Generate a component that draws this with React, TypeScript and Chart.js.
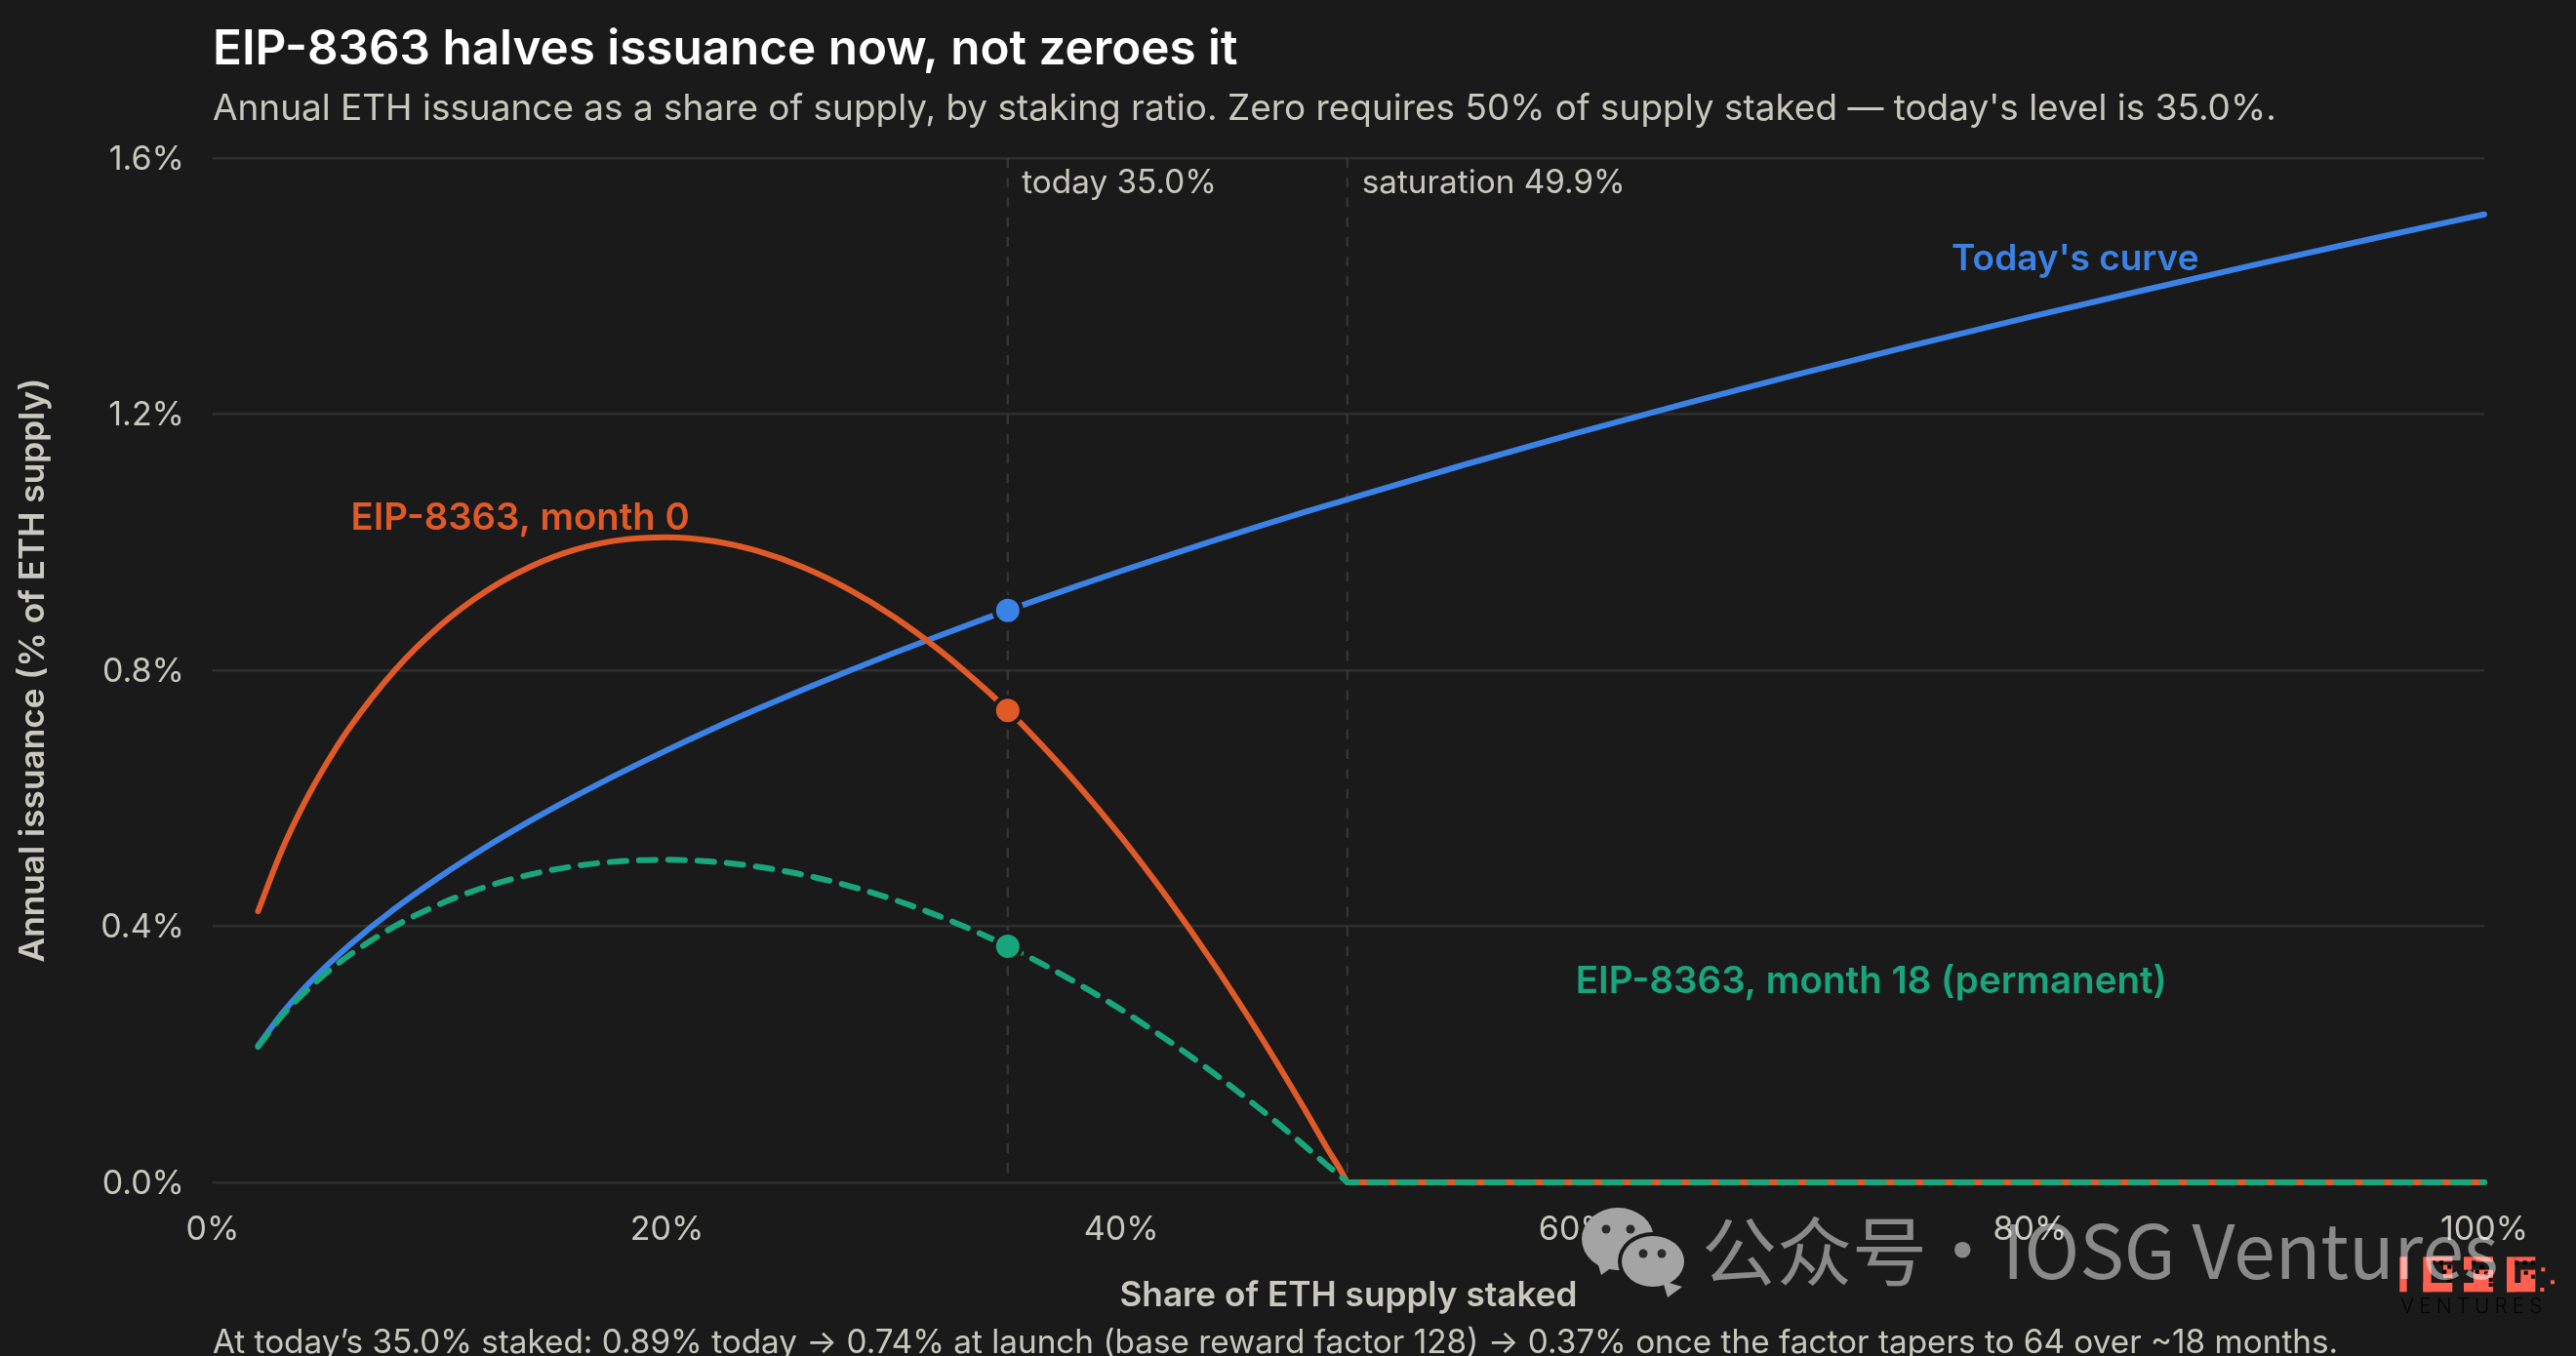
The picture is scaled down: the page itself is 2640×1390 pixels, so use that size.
import React, { useEffect, useRef } from "react";
import { Chart, registerables } from "chart.js";

Chart.register(...registerables);

const stakedLow = [2, 3, 4, 5, 6, 8, 10, 12, 14, 16, 18, 20, 22, 24, 26, 28, 30, 32, 34, 35, 36, 38, 40, 42, 44, 46, 47, 48, 49, 49.65, 49.85];
const todayLow = [0.2135, 0.2615, 0.302, 0.3376, 0.3699, 0.4271, 0.4775, 0.5231, 0.565, 0.604, 0.6406, 0.6753, 0.7083, 0.7397, 0.77, 0.799, 0.8271, 0.8542, 0.8805, 0.8933, 0.906, 0.9308, 0.955, 0.9786, 1.0016, 1.0241, 1.0352, 1.0462, 1.057, 1.0634, 1.0656];
const month0Low = [0.4236, 0.5153, 0.5903, 0.6538, 0.709, 0.7993, 0.8694, 0.9228, 0.962, 0.9887, 1.0036, 1.0078, 1.0019, 0.986, 0.9608, 0.9263, 0.8831, 0.831, 0.7705, 0.7372, 0.7016, 0.6245, 0.5392, 0.4458, 0.3446, 0.2354, 0.1778, 0.1184, 0.0569, 0.0192, 0.0064];
const month18Low = [0.2118, 0.2577, 0.2951, 0.3269, 0.3545, 0.3997, 0.4347, 0.4614, 0.481, 0.4943, 0.5018, 0.5039, 0.5009, 0.493, 0.4804, 0.4632, 0.4415, 0.4155, 0.3853, 0.3686, 0.3508, 0.3122, 0.2696, 0.2229, 0.1723, 0.1177, 0.0889, 0.0592, 0.0285, 0.0096, 0.0032];
const stakedHigh = [49.95, 55, 60, 65, 70, 75, 80, 85, 90, 95, 100];
const todayHigh = [1.0667, 1.12, 1.17, 1.218, 1.2642, 1.3087, 1.3518, 1.3935, 1.434, 1.4735, 1.512];
const zeroHigh = [0, 0, 0, 0, 0, 0, 0, 0, 0, 0, 0];

const markerX = [35];
const markerToday = [0.8933];
const markerMonth0 = [0.7372];
const markerMonth18 = [0.3686];
const refLines = [35, 49.95];

const TITLE = "EIP-8363 halves issuance now, not zeroes it";
const SUBTITLE = "Annual ETH issuance as a share of supply, by staking ratio. Zero requires 50% of supply staked — today's level is 35.0%.";
const FOOTER = "At today’s 35.0% staked: 0.89% today → 0.74% at launch (base reward factor 128) → 0.37% once the factor tapers to 64 over ~18 months.";
const X_TITLE = "Share of ETH supply staked";
const Y_TITLE = "Annual issuance (% of ETH supply)";

const BG = "#1a1a1a";
const TEXT = "#c8c8be";
const BLUE = "#3b82e6";
const ORANGE = "#e05a28";
const GREEN = "#18a67a";
const FONT = "Inter, sans-serif";
const WM_FONT = `"Noto Sans CJK SC", "Noto Sans", sans-serif`;

const zip = (xs: number[], ys: number[]) => xs.map((x, i) => ({ x, y: ys[i] }));

const overlay = {
  id: "overlay",
  beforeDraw(chart: any) {
    const c = chart.ctx;
    c.save();
    c.fillStyle = BG;
    c.fillRect(0, 0, chart.width, chart.height);
    c.restore();
  },
  afterDatasetsDraw(chart: any) {
    const c = chart.ctx;
    const sx = chart.scales.x;
    const sy = chart.scales.y;
    const left = chart.chartArea.left;
    c.save();
    c.textBaseline = "alphabetic";
    c.textAlign = "left";

    c.fillStyle = "#ffffff";
    c.font = `600 49.4px ${FONT}`;
    c.fillText(TITLE, left, 66);
    c.fillStyle = TEXT;
    c.font = `400 36.95px ${FONT}`;
    c.fillText(SUBTITLE, left, 123);
    c.font = `400 33.3px ${FONT}`;
    c.fillText(FOOTER, left, 1387);

    c.fillText("today 35.0%", sx.getPixelForValue(35) + 14.5, 198);
    c.fillText("saturation 49.9%", sx.getPixelForValue(49.9) + 16, 198);

    c.font = `600 38.3px ${FONT}`;
    c.fillStyle = ORANGE;
    c.fillText("EIP-8363, month 0", sx.getPixelForValue(6.08), sy.getPixelForValue(1.0195));
    c.font = `600 38.5px ${FONT}`;
    c.fillStyle = GREEN;
    c.fillText("EIP-8363, month 18 (permanent)", sx.getPixelForValue(60.0), sy.getPixelForValue(0.296));
    c.font = `600 37px ${FONT}`;
    c.fillStyle = BLUE;
    c.fillText("Today's curve", sx.getPixelForValue(76.55), sy.getPixelForValue(1.4247));

    // IOSG logo
    c.fillStyle = "#ff5f4f";
    const bx = 2420, by = 1260;
    const r = (x0: number, y0: number, x1: number, y1: number) =>
      c.fillRect(bx + x0 / 3, by + y0 / 3, (x1 - x0) / 3, (y1 - y0) / 3);
    r(118, 85, 140, 193);
    r(190, 85, 215, 193); r(190, 165, 280, 193); r(215, 85, 280, 100); r(252, 110, 280, 150);
    r(315, 85, 340, 125); r(315, 165, 405, 193); r(340, 85, 405, 100); r(345, 125, 405, 165);
    r(447, 85, 472, 193); r(447, 165, 535, 193); r(472, 85, 535, 100); r(490, 125, 535, 165);
    r(553, 118, 565, 130); r(582, 157, 594, 169); r(550, 180, 562, 192);
    c.fillStyle = "#000000";
    for (const [x, y] of [[215, 97], [240, 97], [265, 110], [250, 125], [265, 150], [340, 97], [365, 110], [350, 125], [378, 130], [392, 150], [392, 165], [472, 97], [497, 97], [522, 97], [500, 128], [522, 140]]) {
      r(x, y, x + 12, y + 12);
    }
    c.fillStyle = "#050505";
    c.font = `300 21px ${FONT}`;
    (c as any).letterSpacing = "5px";
    c.fillText("VENTURES", bx + 120 / 3, by + 259 / 3);
    (c as any).letterSpacing = "0px";

    // WeChat watermark
    c.fillStyle = "rgba(255,255,255,0.49)";
    c.font = `400 77px ${WM_FONT}`;
    c.fillText("公众号", 1744, 1312);
    c.font = `400 76.5px ${WM_FONT}`;
    c.fillText("·", 1973, 1310);
    c.fillText("IOSG Ventures", 2052, 1311);
    const bubble = (x: number, y: number, rx: number, ry: number, tx: number, ty: number, dir: number) => {
      c.beginPath();
      c.ellipse(x, y, rx, ry, 0, 0, Math.PI * 2);
      c.fill();
      c.beginPath();
      c.moveTo(tx, ty);
      c.lineTo(tx + dir * 5, ty + 17);
      c.lineTo(tx + dir * 20, ty + 6);
      c.closePath();
      c.fill();
    };
    c.fillStyle = "#a4a4a4";
    bubble(1658, 1270, 37, 32, 1636, 1290, 1);
    c.fillStyle = BG;
    c.beginPath();
    c.ellipse(1694, 1293, 36, 30, 0, 0, Math.PI * 2);
    c.fill();
    c.fillStyle = "#a4a4a4";
    bubble(1694, 1293, 32, 26, 1704, 1313, 1);
    c.fillStyle = "#2a2a2a";
    for (const [x, y] of [[1646, 1260], [1671, 1260], [1684, 1285], [1703, 1285]]) {
      c.beginPath();
      c.arc(x, y, 4.5, 0, Math.PI * 2);
      c.fill();
    }
    c.restore();
  },
};

export default function App() {
  const ref = useRef<HTMLCanvasElement | null>(null);

  useEffect(() => {
    if (!ref.current) return;
    const point = (color: string, xs: number[], ys: number[]) => ({
      data: zip(xs, ys),
      showLine: false,
      pointRadius: 14,
      pointBackgroundColor: color,
      pointBorderColor: BG,
      pointBorderWidth: 4,
      clip: false,
      order: 0,
    });
    const curve = (color: string, xs: number[], ys: number[], order: number, dash: number[] = []) => ({
      data: zip(xs, ys),
      showLine: true,
      borderColor: color,
      borderWidth: 6,
      borderDash: dash,
      borderCapStyle: "round",
      borderJoinStyle: "round",
      cubicInterpolationMode: "monotone",
      pointRadius: 0,
      clip: false,
      order,
    });
    const chart = new Chart(ref.current, {
      type: "scatter",
      data: {
        datasets: [
          ...refLines.map((v) => ({
            data: [{ x: v, y: 1.6 }, { x: v, y: 0 }],
            showLine: true,
            borderColor: "#343434",
            borderWidth: 2.5,
            borderDash: [10.1, 10.1],
            pointRadius: 0,
            order: 6,
          })),
          curve(BLUE, [...stakedLow, ...stakedHigh], [...todayLow, ...todayHigh], 5),
          curve(ORANGE, [...stakedLow, ...stakedHigh], [...month0Low, ...zeroHigh], 4),
          curve(GREEN, [...stakedLow, ...stakedHigh], [...month18Low, ...zeroHigh], 3, [17, 13]),
          point(BLUE, markerX, markerToday),
          point(ORANGE, markerX, markerMonth0),
          point(GREEN, markerX, markerMonth18),
        ] as any,
      },
      options: {
        responsive: false,
        animation: false,
        devicePixelRatio: 1,
        layout: { padding: { top: 162, right: 94, left: 13, bottom: 0 } },
        plugins: { legend: { display: false }, title: { display: false }, tooltip: { enabled: false } },
        scales: {
          x: {
            type: "linear",
            min: 0,
            max: 100,
            border: { display: false },
            grid: { display: false, drawTicks: false },
            afterFit: (s: any) => { s.height = 178; },
            ticks: {
              stepSize: 20,
              padding: 28,
              maxRotation: 0,
              color: TEXT,
              font: { family: FONT, size: 34 },
              callback: (v: any) => `${v}%`,
            },
            title: {
              display: true,
              text: X_TITLE,
              color: TEXT,
              font: { family: FONT, size: 35.2, weight: 600 },
              padding: { top: 0, bottom: 40 },
            },
          },
          y: {
            min: 0,
            max: 1.6,
            border: { display: false },
            grid: { color: "#2f2f2f", lineWidth: 2.5, drawTicks: false },
            afterFit: (s: any) => { s.width = 205; },
            ticks: {
              stepSize: 0.4,
              padding: 29,
              labelOffset: 1.5,
              color: TEXT,
              font: { family: FONT, size: 34 },
              callback: (v: any) => `${Number(v).toFixed(1)}%`,
            },
            title: {
              display: true,
              text: Y_TITLE,
              color: TEXT,
              font: { family: FONT, size: 35.2, weight: 600 },
              padding: { top: 0, bottom: 0 },
            },
          },
        },
      },
      plugins: [overlay],
    } as any);
    return () => chart.destroy();
  }, []);

  return (
    <div style={{ position: "fixed", left: 0, top: 0, width: 2640, height: 1390, background: BG }}>
      <canvas ref={ref} width={2640} height={1390} style={{ display: "block", width: 2640, height: 1390 }} />
    </div>
  );
}
